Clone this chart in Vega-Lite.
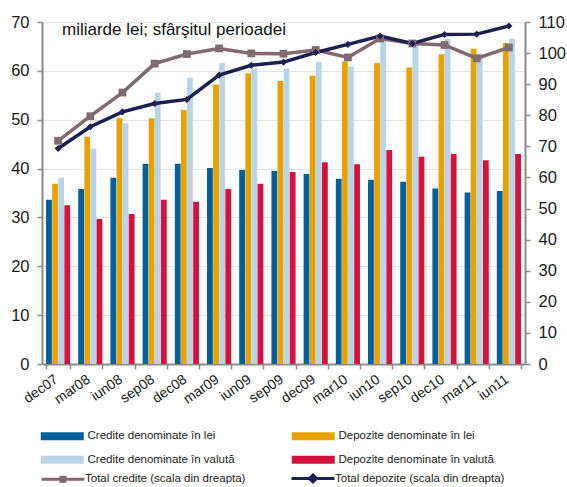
{
  "$schema": "https://vega.github.io/schema/vega-lite/v6.json",
  "width": 483,
  "height": 342,
  "autosize": "none",
  "padding": {"left": 42, "top": 22, "right": 42, "bottom": 123},
  "background": "white",
  "config": {
    "font": "Liberation Sans",
    "view": {"stroke": null},
    "axis": {
      "domainColor": "#8a8a8a",
      "domainWidth": 2,
      "tickColor": "#8a8a8a",
      "tickWidth": 1.5,
      "tickSize": 5,
      "labelColor": "#1a1a1a",
      "labelFont": "Liberation Sans",
      "title": null
    },
    "legend": {"labelFont": "Liberation Sans", "labelColor": "#222222", "labelLimit": 300}
  },
  "title": {
    "text": "miliarde lei; sfârşitul perioadei",
    "anchor": "start",
    "frame": "group",
    "fontSize": 17,
    "fontWeight": "normal",
    "color": "#111111",
    "dx": 20,
    "dy": 29
  },
  "data": {
    "values": [
      {"p": "dec07", "cl": 33.6, "dl": 36.9, "cv": 38.1, "dv": 32.5, "tc": 71.8, "td": 69.3},
      {"p": "mar08", "cl": 35.8, "dl": 46.5, "cv": 44.1, "dv": 29.7, "tc": 79.7, "td": 76.3},
      {"p": "iun08", "cl": 38.1, "dl": 50.3, "cv": 49.2, "dv": 30.7, "tc": 87.3, "td": 81.1},
      {"p": "sep08", "cl": 41.0, "dl": 50.3, "cv": 55.5, "dv": 33.6, "tc": 96.6, "td": 83.8},
      {"p": "dec08", "cl": 41.0, "dl": 52.0, "cv": 58.6, "dv": 33.2, "tc": 99.7, "td": 85.1},
      {"p": "mar09", "cl": 40.1, "dl": 57.2, "cv": 61.6, "dv": 35.8, "tc": 101.5, "td": 92.9},
      {"p": "iun09", "cl": 39.7, "dl": 59.5, "cv": 60.5, "dv": 36.9, "tc": 99.9, "td": 96.1},
      {"p": "sep09", "cl": 39.5, "dl": 57.9, "cv": 60.5, "dv": 39.3, "tc": 99.8, "td": 97.1},
      {"p": "dec09", "cl": 38.9, "dl": 59.0, "cv": 61.8, "dv": 41.3, "tc": 101.0, "td": 100.2},
      {"p": "mar10", "cl": 37.9, "dl": 61.9, "cv": 60.9, "dv": 40.9, "tc": 98.6, "td": 102.8},
      {"p": "iun10", "cl": 37.7, "dl": 61.6, "cv": 66.5, "dv": 43.8, "tc": 104.7, "td": 105.5},
      {"p": "sep10", "cl": 37.3, "dl": 60.7, "cv": 65.4, "dv": 42.4, "tc": 103.1, "td": 103.1},
      {"p": "dec10", "cl": 35.9, "dl": 63.4, "cv": 66.6, "dv": 43.0, "tc": 102.6, "td": 106.0},
      {"p": "mar11", "cl": 35.1, "dl": 64.5, "cv": 63.5, "dv": 41.7, "tc": 98.3, "td": 106.1},
      {"p": "iun11", "cl": 35.4, "dl": 65.7, "cv": 66.6, "dv": 43.0, "tc": 101.8, "td": 108.7}
    ]
  },
  "encoding": {
    "x": {
      "field": "p",
      "type": "ordinal",
      "sort": null,
      "scale": {"paddingInner": 0.25, "paddingOuter": 0.125},
      "axis": {
        "labelAngle": -35,
        "labelFontSize": 14,
        "tickBand": "extent",
        "labelPadding": 3,
        "labelOffset": -6,
        "grid": false
      }
    }
  },
  "layer": [
    {
      "transform": [{"fold": ["cl", "dl", "cv", "dv"], "as": ["k", "v"]}],
      "mark": {"type": "bar"},
      "encoding": {
        "xOffset": {"field": "k", "sort": ["cl", "dl", "cv", "dv"], "scale": {"paddingInner": 0.05}},
        "y": {
          "field": "v",
          "type": "quantitative",
          "scale": {"domain": [0, 70]},
          "axis": {
            "orient": "left",
            "values": [0, 10, 20, 30, 40, 50, 60, 70],
            "grid": true,
            "gridColor": "#e3e3e3",
            "gridWidth": 1,
            "labelFontSize": 16.5,
            "labelPadding": 8
          }
        },
        "color": {
          "field": "k",
          "type": "nominal",
          "scale": {"domain": ["cl", "dl", "cv", "dv"], "range": ["#00609E", "#E8A200", "#B8D4E6", "#D4123F"]},
          "legend": {
            "orient": "none",
            "direction": "horizontal",
            "legendX": -2,
            "legendY": 408,
            "columns": 2,
            "title": null,
            "symbolType": "M-1,-0.8H7.6V0.8H-1Z",
            "symbolSize": 100,
            "symbolStrokeWidth": 0,
            "labelFontSize": 11.5,
            "labelOffset": 36,
            "labelLimit": 300,
            "columnPadding": 56,
            "rowPadding": 11,
            "labelExpr": "datum.value=='cl'?'Credite denominate în lei':datum.value=='dl'?'Depozite denominate în lei':datum.value=='cv'?'Credite denominate în valută':'Depozite denominate în valută'"
          }
        }
      }
    },
    {
      "encoding": {
        "y": {
          "field": "v",
          "type": "quantitative",
          "scale": {"domain": [0, 110]},
          "axis": {
            "orient": "right",
            "values": [0, 10, 20, 30, 40, 50, 60, 70, 80, 90, 100, 110],
            "grid": false,
            "labelFontSize": 16.5,
            "labelPadding": 8
          }
        }
      },
      "layer": [
        {
          "transform": [{"fold": ["tc", "td"], "as": ["k", "v"]}],
          "mark": {"type": "line", "strokeWidth": 3.5},
          "encoding": {
            "stroke": {
              "field": "k",
              "type": "nominal",
              "scale": {"domain": ["tc", "td"], "range": ["#7E6A70", "#1C1F50"]},
              "legend": {
                "orient": "none",
                "direction": "horizontal",
                "legendX": -2,
                "legendY": 450,
                "columns": 2,
                "title": null,
                "symbolSize": 100,
                "symbolStrokeWidth": 3,
                "labelFontSize": 11.5,
                "labelOffset": 32,
                "labelLimit": 300,
                "columnPadding": 39,
                "labelExpr": "datum.value=='tc'?'Total credite (scala din dreapta)':'Total depozite (scala din dreapta)'"
              }
            }
          }
        },
        {
          "transform": [{"fold": ["tc"], "as": ["k", "v"]}],
          "mark": {"type": "point", "shape": "square", "filled": true, "size": 60, "color": "#7E6A70", "opacity": 1},
          "encoding": {}
        },
        {
          "transform": [{"fold": ["td"], "as": ["k", "v"]}],
          "mark": {"type": "point", "shape": "diamond", "filled": true, "size": 50, "color": "#1C1F50", "opacity": 1},
          "encoding": {}
        },
        {
          "transform": [{"fold": ["tc", "td"], "as": ["k", "v"]}, {"filter": "false"}],
          "mark": {"type": "point", "filled": true, "opacity": 1},
          "encoding": {
            "shape": {
              "field": "k",
              "type": "nominal",
              "scale": {"domain": ["tc", "td"], "range": ["M-1,0H7.6M2.9,-0.4H3.7V0.4H2.9Z", "M-1,0H7.6M3.3,-0.7L4,0L3.3,0.7L2.6,0Z"]},
              "legend": {
                "orient": "none",
                "direction": "horizontal",
                "legendX": -2,
                "legendY": 450,
                "columns": 2,
                "title": null,
                "symbolSize": 100,
                "symbolStrokeWidth": 3,
                "labelFontSize": 11.5,
                "labelOffset": 32,
                "labelLimit": 300,
                "columnPadding": 39,
                "labelExpr": "datum.value=='tc'?'Total credite (scala din dreapta)':'Total depozite (scala din dreapta)'"
              }
            },
            "fill": {
              "field": "k",
              "type": "nominal",
              "scale": {"domain": ["tc", "td"], "range": ["#7E6A70", "#1C1F50"]},
              "legend": {
                "orient": "none",
                "direction": "horizontal",
                "legendX": -2,
                "legendY": 450,
                "columns": 2,
                "title": null,
                "symbolSize": 100,
                "symbolStrokeWidth": 3,
                "labelFontSize": 11.5,
                "labelOffset": 32,
                "labelLimit": 300,
                "columnPadding": 39,
                "labelExpr": "datum.value=='tc'?'Total credite (scala din dreapta)':'Total depozite (scala din dreapta)'"
              }
            }
          }
        }
      ]
    }
  ],
  "resolve": {"scale": {"y": "independent"}}
}
